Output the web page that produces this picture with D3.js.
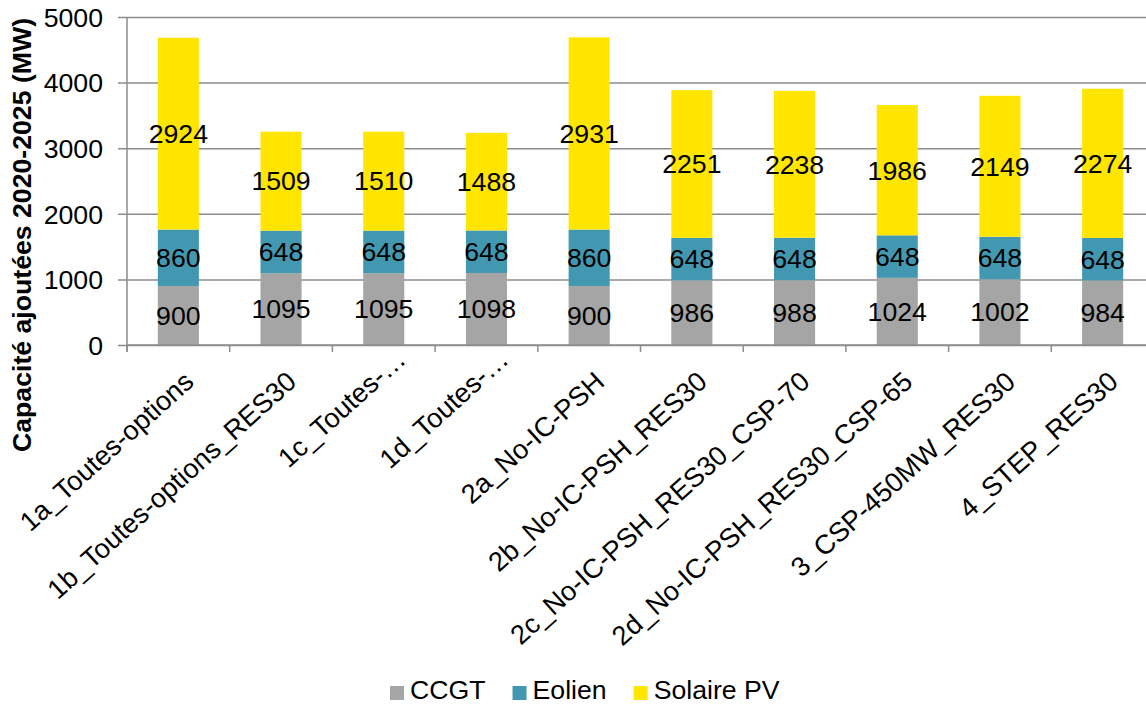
<!DOCTYPE html>
<html>
<head>
<meta charset="utf-8">
<script src="https://cdn.jsdelivr.net/npm/d3@7"></script>
<style>
  html, body { margin: 0; padding: 0; background: #ffffff; }
  svg { display: block; font-family: "Liberation Sans", Arial, sans-serif; }
</style>
</head>
<body>
<svg id="chart" width="1146" height="705"></svg>
<script>
// Scenarios on the x axis
const scenarios = [
  "1a_Toutes-options",
  "1b_Toutes-options_RES30",
  "1c_Toutes-…",
  "1d_Toutes-…",
  "2a_No-IC-PSH",
  "2b_No-IC-PSH_RES30",
  "2c_No-IC-PSH_RES30_CSP-70",
  "2d_No-IC-PSH_RES30_CSP-65",
  "3_CSP-450MW_RES30",
  "4_STEP_RES30"
];

// Added capacity per technology (MW)
const ccgt    = [900, 1095, 1095, 1098, 900, 986, 988, 1024, 1002, 984];
const eolien  = [860, 648, 648, 648, 860, 648, 648, 648, 648, 648];
const solaire = [2924, 1509, 1510, 1488, 2931, 2251, 2238, 1986, 2149, 2274];

const seriesNames = ["CCGT", "Eolien", "Solaire PV"];
const seriesColors = ["#a5a5a5", "#4398b1", "#ffe500"];
const yTicks = [0, 1000, 2000, 3000, 4000, 5000];

const svg = d3.select("#chart");
const FONT = 26.67;
const LABEL_FONT = 27.2;
const LABEL_ANGLE = -42;

const plot = { left: 127, top: 17, bottom: 345 };
const step = 102.7;
const plotRight = plot.left + step * scenarios.length;

const x = d3.scaleBand()
  .domain(scenarios)
  .range([plot.left, plotRight])
  .paddingInner(0.6)
  .paddingOuter(0.3);

const y = d3.scaleLinear().domain([0, 5000]).range([plot.bottom, plot.top]);

// Build stacked table
const table = scenarios.map((s, i) => ({
  scenario: s, CCGT: ccgt[i], Eolien: eolien[i], "Solaire PV": solaire[i]
}));
const stacked = d3.stack().keys(seriesNames)(table);

const gridColor = "#8c8c8c";

// Horizontal gridlines with outward tick marks
const yAxis = d3.axisLeft(y)
  .tickValues(yTicks)
  .tickSize(-(plotRight - plot.left))
  .tickSizeOuter(0)
  .tickPadding(0)
  .tickFormat(d3.format("d"));

const gy = svg.append("g")
  .attr("transform", `translate(${plot.left},0)`)
  .call(yAxis);
gy.select(".domain").remove();
gy.selectAll(".tick line")
  .attr("x1", -9)
  .attr("stroke", gridColor)
  .attr("stroke-width", 1.5);
gy.selectAll(".tick text")
  .attr("x", -24)
  .attr("dy", "0.35em")
  .attr("fill", "#000")
  .style("font-size", FONT + "px");

// Vertical axis line
svg.append("line")
  .attr("x1", plot.left).attr("x2", plot.left)
  .attr("y1", plot.top).attr("y2", plot.bottom + 7)
  .attr("stroke", gridColor).attr("stroke-width", 1.5);

// Bars
const layers = svg.append("g").selectAll("g")
  .data(stacked)
  .join("g")
  .attr("fill", (d, i) => seriesColors[i]);

layers.selectAll("rect")
  .data(d => d)
  .join("rect")
  .attr("x", d => x(d.data.scenario))
  .attr("width", x.bandwidth())
  .attr("y", d => y(d[1]))
  .attr("height", d => y(d[0]) - y(d[1]));

// Category axis with ticks between bands
const boundaries = d3.range(scenarios.length + 1).map(i => plot.left + i * x.step());
svg.append("line")
  .attr("x1", plot.left).attr("x2", plotRight)
  .attr("y1", plot.bottom).attr("y2", plot.bottom)
  .attr("stroke", gridColor).attr("stroke-width", 1.5);
svg.append("g").selectAll("line")
  .data(boundaries)
  .join("line")
  .attr("x1", d => d).attr("x2", d => d)
  .attr("y1", plot.bottom).attr("y2", plot.bottom + 7)
  .attr("stroke", gridColor).attr("stroke-width", 1.5);

// Data labels, centred in each segment
layers.each(function (layer) {
  d3.select(this).selectAll("text")
    .data(layer)
    .join("text")
    .attr("x", d => x(d.data.scenario) + x.bandwidth() / 2)
    .attr("y", d => (y(d[0]) + y(d[1])) / 2)
    .attr("dy", "0.35em")
    .attr("text-anchor", "middle")
    .attr("fill", "#000")
    .style("font-size", FONT + "px")
    .text(d => d[1] - d[0]);
});

// Rotated category labels; truncated ones sit a little further along and up
const rad = -LABEL_ANGLE * Math.PI / 180;
svg.append("g").selectAll("text")
  .data(scenarios)
  .join("text")
  .attr("text-anchor", "end")
  .attr("transform", d => {
    const cx = x(d) + x.bandwidth() / 2 + 17;
    const trunc = d.endsWith("…");
    const along = trunc ? 20 : 0, up = trunc ? 12 : 0;
    const px = cx + along * Math.cos(rad) - up * Math.sin(rad);
    const py = 384 - along * Math.sin(rad) - up * Math.cos(rad);
    return `translate(${px},${py}) rotate(${LABEL_ANGLE})`;
  })
  .attr("fill", "#000")
  .style("font-size", LABEL_FONT + "px")
  .text(d => d);

// Y axis title
svg.append("text")
  .attr("transform", "translate(31,235) rotate(-90)")
  .attr("text-anchor", "middle")
  .attr("fill", "#000")
  .style("font-size", FONT + "px")
  .style("font-weight", "bold")
  .text("Capacité ajoutées 2020-2025 (MW)");

// Legend
const legend = svg.append("g");
let lx = 390;
seriesNames.forEach((name, i) => {
  legend.append("rect")
    .attr("x", lx).attr("y", 686)
    .attr("width", 14).attr("height", 14)
    .attr("fill", seriesColors[i]);
  const t = legend.append("text")
    .attr("x", lx + 20).attr("y", 699)
    .attr("fill", "#000")
    .style("font-size", FONT + "px")
    .text(name);
  lx += 20 + t.node().getComputedTextLength() + 27;
});
</script>
</body>
</html>
